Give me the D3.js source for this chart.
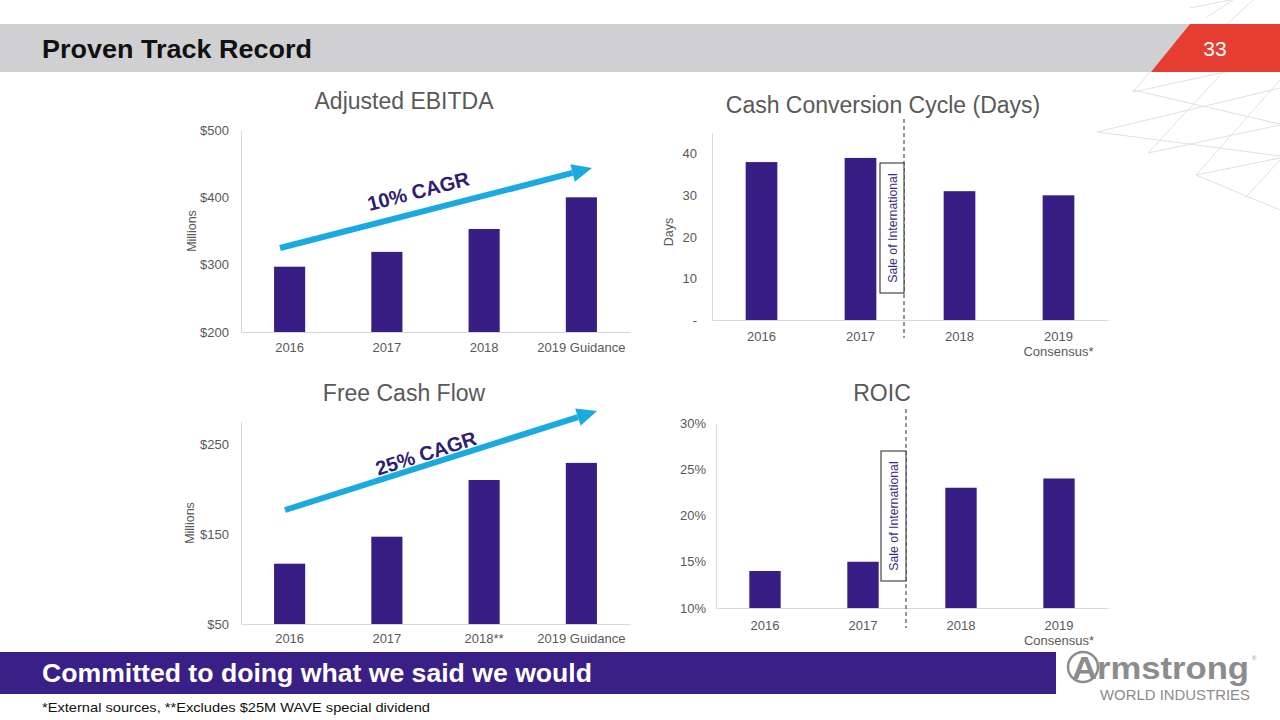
<!DOCTYPE html>
<html><head><meta charset="utf-8">
<script src="https://cdn.jsdelivr.net/npm/d3@7"></script>
<style>
html,body{margin:0;padding:0;background:#fff;}
svg{display:block;font-family:"Liberation Sans",Arial,sans-serif;}
</style></head>
<body><svg id="c" width="1280" height="720"></svg>
<script>
// ---- data ----
const ebitdaCats = ["2016","2017","2018","2019 Guidance"];
const ebitdaVals = [297, 319, 353, 400];
const ebitdaTicks = [200, 300, 400, 500];

const cccCats = ["2016","2017","2018","2019\nConsensus*"];
const cccVals = [38, 39, 31, 30];
const cccTicks = [0, 10, 20, 30, 40];

const fcfCats = ["2016","2017","2018**","2019 Guidance"];
const fcfVals = [117, 147, 210, 229];
const fcfTicks = [50, 150, 250];

const roicCats = ["2016","2017","2018","2019\nConsensus*"];
const roicVals = [14, 15, 23, 24];
const roicTicks = [10, 15, 20, 25, 30];

const BAR = "#381d84", TXT = "#595959", AX = "#d9d9d9", ARROW = "#1aa9e1", CAGR = "#2e2070";

const svg = d3.select("#c");

// background lattice (decor)
const lat = [
 [1207,17,1233,0],[1190,8,1280,-10],[1253,0,1210,40],
 [1133,92,1280,60],[1097,132,1280,88],[1097,132,1280,156],[1133,90,1280,124],
 [1148,153,1280,125],[1196,175,1280,158],[1148,153,1225,70],[1196,175,1280,80],[1245,198,1280,160],
 [1133,92,1150,72],[1196,175,1280,210]
];
svg.append("g").selectAll("line").data(lat).join("line")
 .attr("x1",d=>d[0]).attr("y1",d=>d[1]).attr("x2",d=>d[2]).attr("y2",d=>d[3])
 .attr("stroke","#e0e0e0").attr("stroke-width",1);

// header
svg.append("rect").attr("x",0).attr("y",24).attr("width",1200).attr("height",48).attr("fill","#d0d0d2");
svg.append("polygon").attr("points","1151,72 1190,24 1280,24 1280,72").attr("fill","#e53e30");
svg.append("text").attr("x",42).attr("y",58).attr("font-size",26).attr("font-weight","bold")
 .attr("fill","#111").attr("textLength",270).attr("lengthAdjust","spacingAndGlyphs").text("Proven Track Record");
svg.append("text").attr("x",1215).attr("y",56).attr("text-anchor","middle").attr("font-size",21)
 .attr("fill","#fff").text("33");

function chart(o){
  const g = svg.append("g");
  const x = d3.scaleBand().domain(o.cats).range(o.xr).padding(0);
  const y = d3.scaleLinear().domain(o.dom).range(o.yr);
  // title
  g.append("text").attr("x",o.tx).attr("y",o.ty).attr("text-anchor","middle")
    .attr("font-size",23).attr("fill",TXT).text(o.title);
  // y axis
  const ya = g.append("g").attr("transform",`translate(${o.xr[0]},0)`)
    .call(d3.axisLeft(y).tickValues(o.ticks).tickSize(0).tickSizeOuter(0).tickPadding(o.pad).tickFormat(o.fmt));
  ya.select(".domain").attr("stroke",AX);
  ya.selectAll("text").attr("font-size",13).attr("fill",TXT).attr("font-family","Liberation Sans, Arial, sans-serif");
  // x axis
  const xa = g.append("g").attr("transform",`translate(0,${o.yr[0]})`)
    .call(d3.axisBottom(x).tickSize(0).tickSizeOuter(0).tickFormat(""));
  xa.select(".domain").attr("stroke",AX);
  // bars
  const bw = x.bandwidth()*0.32;
  g.selectAll("rect.bar").data(o.vals).join("rect").attr("class","bar")
    .attr("x",(d,i)=>x(o.cats[i])+x.bandwidth()/2-bw/2)
    .attr("y",d=>y(d)).attr("width",bw).attr("height",d=>y(o.dom[0])-y(d)).attr("fill",BAR);
  // category labels
  o.cats.forEach(c=>{
    const t = g.append("text").attr("x",x(c)+x.bandwidth()/2).attr("y",o.ly)
      .attr("text-anchor","middle").attr("font-size",13).attr("fill",TXT);
    c.split("\n").forEach((s,i)=>t.append("tspan").attr("x",x(c)+x.bandwidth()/2).attr("dy",i?14.5:0).text(s));
  });
  if(o.ylab){
    g.append("text").attr("transform",`translate(${o.ylab[0]},${o.ylab[1]}) rotate(-90)`)
      .attr("text-anchor","middle").attr("font-size",12.5).attr("fill",TXT).text(o.ylab[2]);
  }
  return {x,y,g};
}

chart({cats:ebitdaCats, vals:ebitdaVals, ticks:ebitdaTicks, dom:[200,500], xr:[241,630], yr:[332,130],
  fmt:d=>"$"+d, pad:12, title:"Adjusted EBITDA", tx:404, ty:109, ly:352, ylab:[196,231,"Millions"]});
chart({cats:cccCats, vals:cccVals, ticks:cccTicks, dom:[0,45], xr:[712,1108], yr:[320,133],
  fmt:d=>d===0?"-":d, pad:15, title:"Cash Conversion Cycle (Days)", tx:883, ty:113, ly:341, ylab:[673,232,"Days"]});
chart({cats:fcfCats, vals:fcfVals, ticks:fcfTicks, dom:[50,275], xr:[241,630], yr:[624,421.5],
  fmt:d=>"$"+d, pad:12, title:"Free Cash Flow", tx:404, ty:401, ly:643, ylab:[194,523,"Millions"]});
chart({cats:roicCats, vals:roicVals, ticks:roicTicks, dom:[10,30], xr:[716,1108], yr:[608,423],
  fmt:d=>d+"%", pad:10, title:"ROIC", tx:882, ty:401, ly:630});

// arrows
function arrow(x1,y1,x2,y2,label,lx,ly){
  const a = Math.atan2(y2-y1,x2-x1);
  const hl=20, hw=9;
  const bx = x2-hl*Math.cos(a), by = y2-hl*Math.sin(a);
  svg.append("line").attr("x1",x1).attr("y1",y1).attr("x2",bx).attr("y2",by)
    .attr("stroke",ARROW).attr("stroke-width",6);
  const px=-Math.sin(a), py=Math.cos(a);
  svg.append("polygon").attr("points",
    `${x2},${y2} ${bx+px*hw},${by+py*hw} ${bx-px*hw},${by-py*hw}`).attr("fill",ARROW);
  svg.append("text").attr("transform",`translate(${lx},${ly}) rotate(${a*180/Math.PI})`)
    .attr("text-anchor","middle").attr("font-size",20).attr("font-weight","bold").attr("fill",CAGR).text(label);
}
arrow(280,248,592,168,"10% CAGR",420,198);
arrow(285,510,597,411,"25% CAGR",428,460);

// sale of international markers
function sale(lx,y1,y2,bx1,by1,by2){
  svg.append("line").attr("x1",lx).attr("x2",lx).attr("y1",y1).attr("y2",y2)
    .attr("stroke","#2a2a4a").attr("stroke-width",1).attr("stroke-dasharray","4,3");
  svg.append("rect").attr("x",bx1).attr("y",by1).attr("width",lx-bx1).attr("height",by2-by1)
    .attr("fill","#fff").attr("stroke","#222").attr("stroke-width",1);
  svg.append("text").attr("transform",`translate(${(bx1+lx)/2+4.5},${(by1+by2)/2}) rotate(-90)`)
    .attr("text-anchor","middle").attr("font-size",12.3).attr("fill","#3a2a7a").text("Sale of International");
}
sale(904,119,338,880,163,293);
sale(906,409,628,881,451,581);

// footer
svg.append("rect").attr("x",0).attr("y",652).attr("width",1056).attr("height",42).attr("fill","#3a1f86");
svg.append("text").attr("x",42).attr("y",682).attr("font-size",25).attr("font-weight","bold").attr("fill","#fff")
 .attr("textLength",550).attr("lengthAdjust","spacingAndGlyphs").text("Committed to doing what we said we would");
svg.append("text").attr("x",42).attr("y",712).attr("font-size",13).attr("fill","#111")
 .attr("textLength",388).attr("lengthAdjust","spacingAndGlyphs").text("*External sources, **Excludes $25M WAVE special dividend");

// logo
const LG="#8c8c8c";
svg.append("circle").attr("cx",1083).attr("cy",667).attr("r",15).attr("fill","none").attr("stroke",LG).attr("stroke-width",2.5);
svg.append("text").attr("x",1072).attr("y",679).attr("font-size",32).attr("font-weight","bold").attr("fill",LG)
 .attr("textLength",177).attr("lengthAdjust","spacingAndGlyphs").text("Armstrong");
svg.append("text").attr("x",1252).attr("y",660).attr("font-size",6).attr("fill",LG).text("®");
svg.append("text").attr("x",1100).attr("y",700).attr("font-size",14.5).attr("fill",LG)
 .attr("textLength",150).attr("lengthAdjust","spacingAndGlyphs").text("WORLD INDUSTRIES");
</script></body></html>
